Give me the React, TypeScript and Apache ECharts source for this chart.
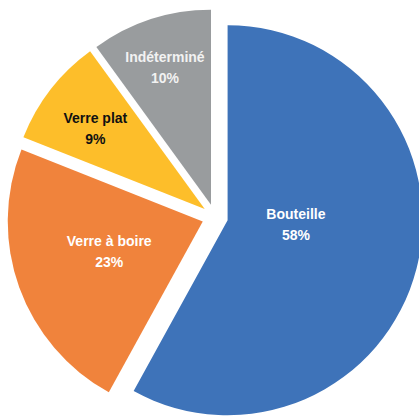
import React, { useEffect, useRef } from "react";
import * as echarts from "echarts";

const categories = ["Bouteille", "Verre à boire", "Verre plat", "Indéterminé"];
const values = [58, 23, 9, 10];

const sliceColors = ["#3E73B9", "#F0833C", "#FDBE2A", "#999C9E"];
const labelColors = ["#FFFFFF", "#FFFFFF", "#111111", "#F2F2F2"];
const labelShift: [number, number][] = [
  [-29, -21],
  [1, -4],
  [-30, -19],
  [-15, -42],
];

export default function App() {
  const ref = useRef<HTMLDivElement>(null);
  useEffect(() => {
    if (!ref.current) return;
    const chart = echarts.init(ref.current, null, { renderer: "svg" });
    chart.setOption({
      animation: false,
      backgroundColor: "#FFFFFF",
      series: [
        {
          type: "pie",
          center: [215, 217],
          radius: 195,
          startAngle: 90,
          clockwise: true,
          selectedMode: "multiple",
          selectedOffset: 13,
          percentPrecision: 0,
          emphasis: { disabled: true },
          itemStyle: { borderWidth: 0 },
          label: {
            show: true,
            position: "inside",
            formatter: "{b}\n{d}%",
            fontFamily: "'Liberation Sans', Arial, sans-serif",
            fontWeight: "bold",
            fontSize: 14,
            lineHeight: 21,
            align: "center",
          },
          labelLine: { show: false },
          labelLayout: (params: any) => {
            const s = labelShift[params.dataIndex] || [0, 0];
            return { dx: s[0], dy: s[1] };
          },
          data: categories.map((name, i) => ({
            name,
            value: values[i],
            selected: true,
            itemStyle: { color: sliceColors[i] },
            label: { color: labelColors[i] },
            select: { itemStyle: { color: sliceColors[i] }, label: { color: labelColors[i] } },
          })),
        },
      ],
    });
    return () => chart.dispose();
  }, []);
  return (
    <div
      ref={ref}
      style={{ position: "fixed", left: 0, top: 0, width: 419, height: 416 }}
    />
  );
}
